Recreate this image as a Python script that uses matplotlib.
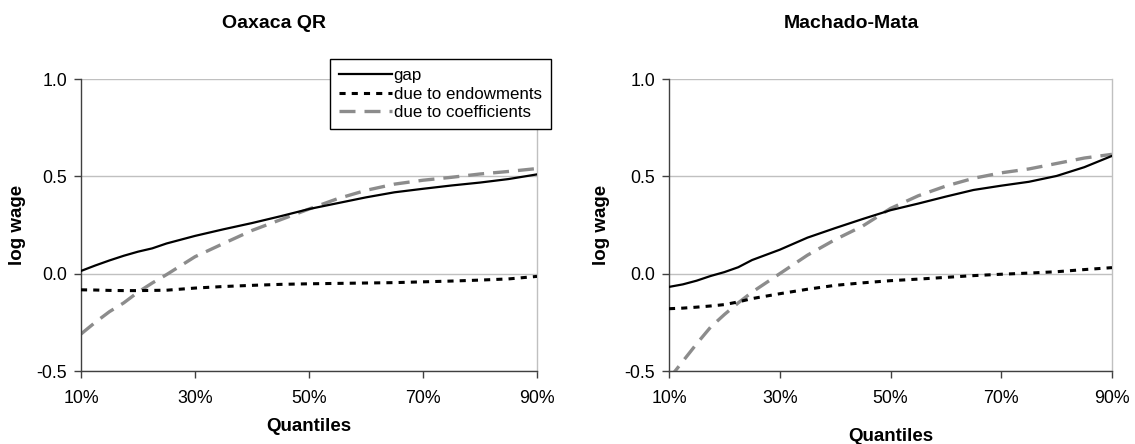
"""
Wage gap decomposition by quantile: Oaxaca QR vs Machado-Mata.
"""

import matplotlib
matplotlib.use("Agg")
import matplotlib.pyplot as plt

plt.rcParams["font.family"] = ["Liberation Sans", "DejaVu Sans"]

quantiles = [10, 12.5, 15, 17.5, 20, 22.5, 25, 30, 35, 40, 45, 50,
             55, 60, 65, 70, 75, 80, 85, 90]

# Oaxaca QR
oax_gap = [0.014, 0.042, 0.068, 0.092, 0.113, 0.130, 0.155, 0.194, 0.228, 0.260,
           0.295, 0.332, 0.362, 0.392, 0.418, 0.436, 0.453, 0.468, 0.486, 0.510]
oax_endow = [-0.083, -0.084, -0.086, -0.087, -0.087, -0.086, -0.085, -0.074, -0.066, -0.060,
             -0.055, -0.052, -0.050, -0.048, -0.046, -0.042, -0.038, -0.033, -0.027, -0.014]
oax_coef = [-0.310, -0.250, -0.195, -0.150, -0.095, -0.048, -0.005, 0.087, 0.155, 0.222,
            0.277, 0.332, 0.385, 0.428, 0.460, 0.480, 0.495, 0.512, 0.525, 0.540]

# Machado-Mata
mm_gap = [-0.068, -0.055, -0.036, -0.012, 0.008, 0.033, 0.070, 0.123, 0.185, 0.234,
          0.281, 0.326, 0.360, 0.396, 0.430, 0.452, 0.472, 0.502, 0.547, 0.605]
mm_endow = [-0.180, -0.177, -0.172, -0.166, -0.159, -0.145, -0.128, -0.103, -0.080, -0.060,
            -0.047, -0.036, -0.028, -0.019, -0.010, -0.003, 0.003, 0.010, 0.021, 0.031]
mm_coef = [-0.540, -0.450, -0.360, -0.275, -0.210, -0.150, -0.095, 0.000, 0.095, 0.175,
           0.245, 0.335, 0.400, 0.450, 0.490, 0.518, 0.538, 0.566, 0.594, 0.613]

panels = [
    ("Oaxaca QR", oax_gap, oax_endow, oax_coef),
    ("Machado-Mata", mm_gap, mm_endow, mm_coef),
]
series_labels = ["gap", "due to endowments", "due to coefficients"]
xticks = [10, 30, 50, 70, 90]
yticks = [-0.5, 0.0, 0.5, 1.0]

W, H = 1135, 444
fig = plt.figure(figsize=(W / 100, H / 100), dpi=100)

# axes boxes in pixels: (left, right)
ax_px = [(81, 537), (669, 1112)]
top_px, bot_px = 79, 371
title_x = [274.5, 851]
ylabel_x = [18, 601]
xlabel_y = [426, 436]

for i, (title, gap, endow, coef) in enumerate(panels):
    l, r = ax_px[i]
    ax = fig.add_axes([l / W, 1 - bot_px / H, (r - l) / W, (bot_px - top_px) / H])

    ax.plot(quantiles, gap, color="black", lw=1.6, label=series_labels[0], zorder=4)
    ax.plot(quantiles, endow, color="black", lw=2.2, dashes=(2, 2),
            label=series_labels[1], zorder=3)
    ax.plot(quantiles, coef, color="#8c8c8c", lw=2.4, dashes=(4.8, 2.7),
            label=series_labels[2], zorder=2)

    ax.set_xlim(10, 90)
    ax.set_ylim(-0.5, 1.0)
    ax.set_xticks(xticks)
    ax.set_xticklabels([f"{t}%" for t in xticks])
    ax.set_yticks(yticks)
    ax.set_yticklabels([f"{t:.1f}" for t in yticks])

    ax.grid(axis="y", color="#c0c0c0", lw=1)
    ax.set_axisbelow(True)
    ax.spines["top"].set_visible(False)
    ax.spines["right"].set_color("#c0c0c0")
    ax.spines["left"].set_color("#404040")
    ax.spines["bottom"].set_color("#404040")
    for s in ax.spines.values():
        s.set_linewidth(1)
    ax.tick_params(axis="both", direction="out", length=5, width=1,
                   color="#404040", labelsize=12.8, pad=5)
    ax.tick_params(axis="x", pad=9)

    ax.set_ylabel("log wage", fontsize=13.5, fontweight="bold")
    ax.yaxis.label.set_va("center")
    ax.yaxis.set_label_coords((ylabel_x[i] - l) / (r - l), 0.5)
    ax.set_xlabel("Quantiles", fontsize=13.5, fontweight="bold")
    ax.xaxis.label.set_va("center")
    ax.xaxis.set_label_coords(0.5, -(xlabel_y[i] - bot_px) / (bot_px - top_px))

    fig.text(title_x[i] / W, 1 - 24 / H, title, fontsize=14, fontweight="bold",
             ha="center", va="center")

    if i == 0:
        leg = ax.legend(loc="upper left", bbox_to_anchor=(330 / W, 1 - 59 / H),
                        bbox_transform=fig.transFigure, borderaxespad=0,
                        fontsize=12.2, handlelength=3.1, handletextpad=0.1,
                        labelspacing=0.2, borderpad=0.55, fancybox=False,
                        framealpha=1, edgecolor="black")
        leg.get_frame().set_linewidth(1)
        leg.set_zorder(10)

fig.savefig("out.png", dpi=100)
